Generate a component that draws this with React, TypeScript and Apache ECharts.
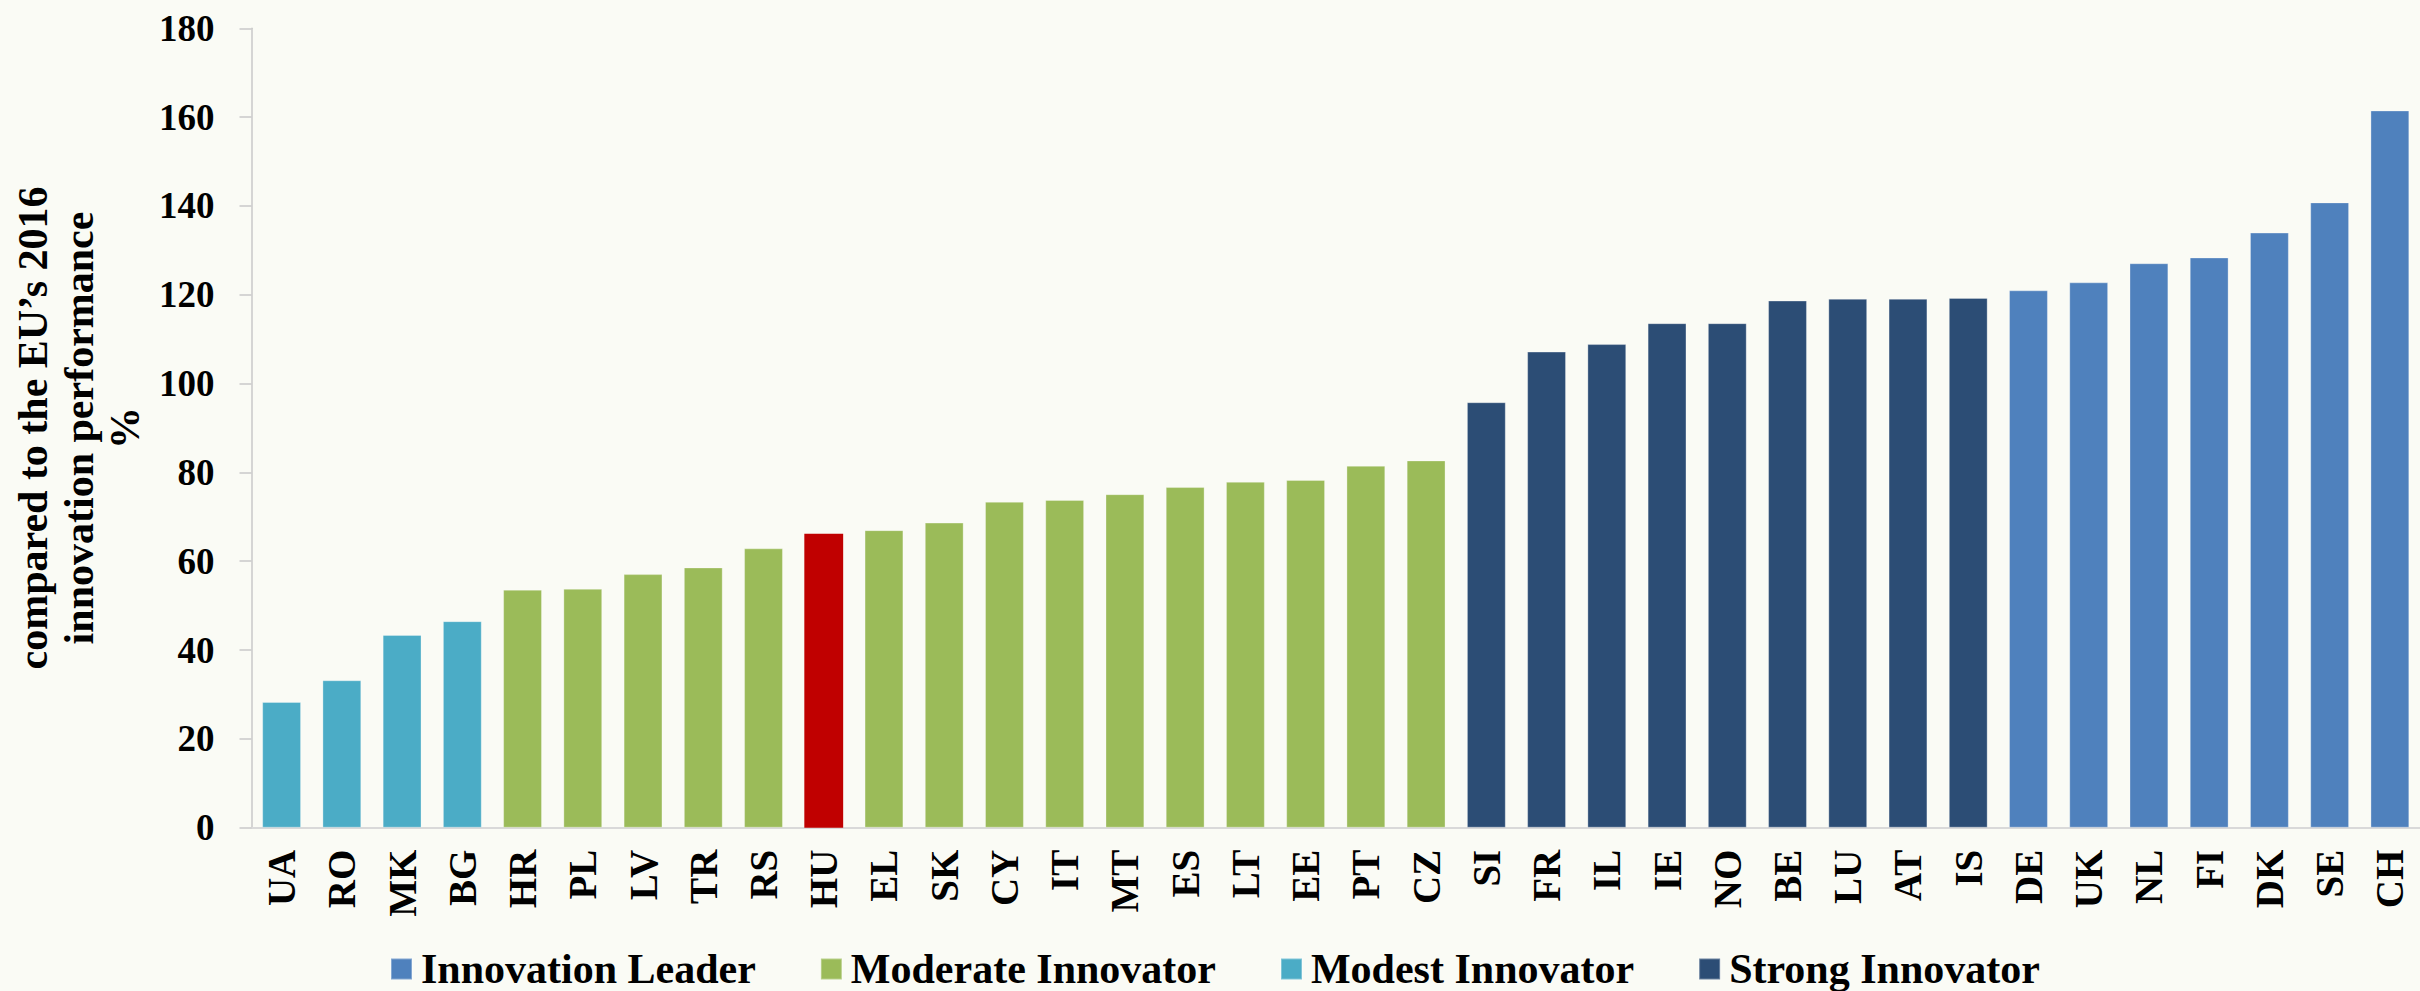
import React, { useEffect, useRef } from "react";
import * as echarts from "echarts";

const categories = ["UA","RO","MK","BG","HR","PL","LV","TR","RS","HU","EL","SK","CY","IT","MT","ES","LT","EE","PT","CZ","SI","FR","IL","IE","NO","BE","LU","AT","IS","DE","UK","NL","FI","DK","SE","CH"];
const values = [28.3,33.2,43.4,46.5,53.6,53.8,57.1,58.6,62.9,66.2,67.0,68.7,73.4,73.8,75.1,76.7,77.9,78.3,81.5,82.7,95.8,107.2,108.9,113.6,113.6,118.7,119.1,119.1,119.3,121.0,122.8,127.1,128.4,134.0,140.8,161.5];
const groups = ["Modest Innovator","Modest Innovator","Modest Innovator","Modest Innovator",
  "Moderate Innovator","Moderate Innovator","Moderate Innovator","Moderate Innovator","Moderate Innovator","Moderate Innovator",
  "Moderate Innovator","Moderate Innovator","Moderate Innovator","Moderate Innovator","Moderate Innovator","Moderate Innovator",
  "Moderate Innovator","Moderate Innovator","Moderate Innovator","Moderate Innovator",
  "Strong Innovator","Strong Innovator","Strong Innovator","Strong Innovator","Strong Innovator","Strong Innovator","Strong Innovator","Strong Innovator","Strong Innovator",
  "Innovation Leader","Innovation Leader","Innovation Leader","Innovation Leader","Innovation Leader","Innovation Leader","Innovation Leader"];
const legendOrder = ["Innovation Leader","Moderate Innovator","Modest Innovator","Strong Innovator"];
const groupColors: Record<string,string> = {
  "Innovation Leader": "#4F81BD",
  "Moderate Innovator": "#9BBB59",
  "Modest Innovator": "#4BACC6",
  "Strong Innovator": "#2C4D75",
};
const highlighted = "HU";
const highlightColor = "#C00000";
const yTicks = { min: 0, max: 180, interval: 20 };
const yName = "compared to the EU\u2019s 2016\ninnovation performance\n%";

const FONT = "'Liberation Serif', 'Times New Roman', serif";

export default function App() {
  const ref = useRef<HTMLDivElement>(null);
  useEffect(() => {
    if (!ref.current) return;
    const chart = echarts.init(ref.current, undefined, { renderer: "svg" });
    const series = legendOrder.map((g) => ({
      name: g,
      type: "bar",
      stack: "all",
      barCategoryGap: "35.5%",
      itemStyle: { color: groupColors[g], borderColor: "rgba(255,255,255,0.3)", borderWidth: 1 },
      data: categories.map((c, i) => {
        if (groups[i] !== g) return "-";
        if (c === highlighted) return { value: values[i], itemStyle: { color: highlightColor, borderWidth: 0 } };
        return values[i];
      }),
    }));
    chart.setOption({
      animation: false,
      backgroundColor: "#FAFBF5",
      textStyle: { fontFamily: FONT },
      grid: { left: 251.5, right: -12, top: 28.3, bottom: 163.3, containLabel: false },
      legend: {
        data: legendOrder,
        left: 390,
        top: 948,
        padding: 0,
        itemWidth: 21,
        itemHeight: 21,
        itemGap: 64,
        icon: "rect",
        textStyle: { fontFamily: FONT, fontWeight: "bold", fontSize: 42, color: "#000", lineHeight: 42, padding: [0, 0, 0, 4] },
      },
      xAxis: {
        type: "category",
        data: categories,
        axisLine: { lineStyle: { color: "#D9D9D9", width: 2 } },
        axisTick: { show: false },
        axisLabel: { rotate: 90, margin: 22, fontFamily: FONT, fontWeight: "bold", fontSize: 39, color: "#000", interval: 0 },
      },
      yAxis: {
        type: "value",
        min: yTicks.min,
        max: yTicks.max,
        interval: yTicks.interval,
        name: yName,
        nameLocation: "middle",
        nameGap: 104,
        nameTextStyle: { fontFamily: FONT, fontWeight: "bold", fontSize: 42, color: "#000", lineHeight: 46 },
        axisLine: { show: true, lineStyle: { color: "#C8C8C8", width: 1.5 } },
        axisTick: { show: true, length: 12, lineStyle: { color: "#C8C8C8", width: 1.5 } },
        splitLine: { show: false },
        axisLabel: { margin: 37, fontFamily: FONT, fontWeight: "bold", fontSize: 37, color: "#000" },
      },
      series,
    });
    return () => chart.dispose();
  }, []);
  return <div ref={ref} style={{ position: "fixed", left: 0, top: 0, width: 2420, height: 991 }} />;
}
